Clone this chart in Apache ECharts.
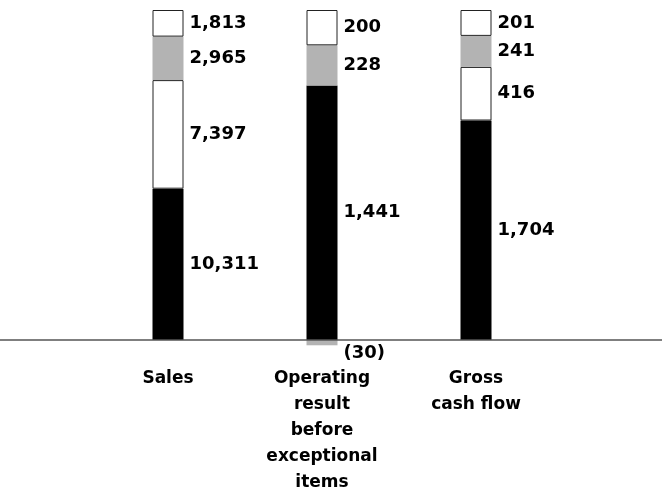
<!DOCTYPE html>
<html>
<head>
<meta charset="utf-8">
<script src="https://cdn.jsdelivr.net/npm/echarts@6/dist/echarts.min.js"></script>
<style>html,body{margin:0;padding:0;background:#fff}#c{width:662px;height:490px}</style>
</head>
<body>
<div id="c"></div>
<script>
const categories = ['Sales', 'Operating\nresult\nbefore\nexceptional\nitems', 'Gross\ncash flow'];
const baseValues = [10311, 1441, 1704];      // black, bottom
const secondValues = [7397, null, 416];      // white, middle
const thirdValues = [2965, 228, 241];        // grey
const topValues = [1813, 200, 201];          // white, top
const negativeValues = [null, -30, null];    // grey, below axis

const positiveSets = [baseValues, secondValues, thirdValues, topValues];
const totals = categories.map((_, i) => positiveSets.reduce((s, a) => s + (a[i] > 0 ? a[i] : 0), 0));

function fmt(v) {
  const s = Math.abs(v).toLocaleString('en-US');
  return v < 0 ? '(' + s + ')' : s;
}
function toPct(arr) {
  return arr.map((v, i) => v == null ? null : { value: v / totals[i] * 100, raw: v });
}

const FONT = 'DejaVu Sans';
const labelStyle = {
  show: true, position: 'right', distance: 6,
  color: '#000', fontFamily: FONT, fontWeight: 'bold', fontSize: 18,
  formatter: p => fmt(p.data.raw)
};

function series(name, arr, color, border, extraLabel) {
  return {
    name, type: 'bar', stack: 'all', barWidth: 31, clip: false,
    data: toPct(arr),
    itemStyle: { color, borderColor: border ? '#222' : color, borderWidth: border ? 1 : 0 },
    label: Object.assign({}, labelStyle, extraLabel || {}),
    emphasis: { disabled: true },
    animation: false
  };
}

const chart = echarts.init(document.getElementById('c'));
chart.setOption({
  animation: false,
  grid: { left: 91, width: 462, top: 10, height: 330, outerBoundsMode: 'none', containLabel: false },
  xAxis: {
    type: 'category', data: categories,
    axisLine: { show: false },
    axisTick: { show: false },
    axisLabel: { color: '#000', fontFamily: FONT, fontWeight: 'bold', fontSize: 17, lineHeight: 26, margin: 26, interval: 0 }
  },
  yAxis: { type: 'value', min: 0, max: 100, show: false, splitLine: { show: false } },
  series: [
    series('base', baseValues, '#000', false),
    series('second', secondValues, '#fff', true),
    series('third', thirdValues, '#b3b3b3', false),
    series('top', topValues, '#fff', true),
    series('negative', negativeValues, '#b3b3b3', false, { position: 'right', offset: [0, 11] })
  ]
});

const y0 = chart.convertToPixel({ yAxisIndex: 0 }, 0);
chart.setOption({
  graphic: [{
    type: 'line', silent: true, z: 10,
    shape: { x1: 0, y1: y0, x2: 662, y2: y0 },
    style: { stroke: '#555', lineWidth: 1.5 }
  }]
});
</script>
</body>
</html>
